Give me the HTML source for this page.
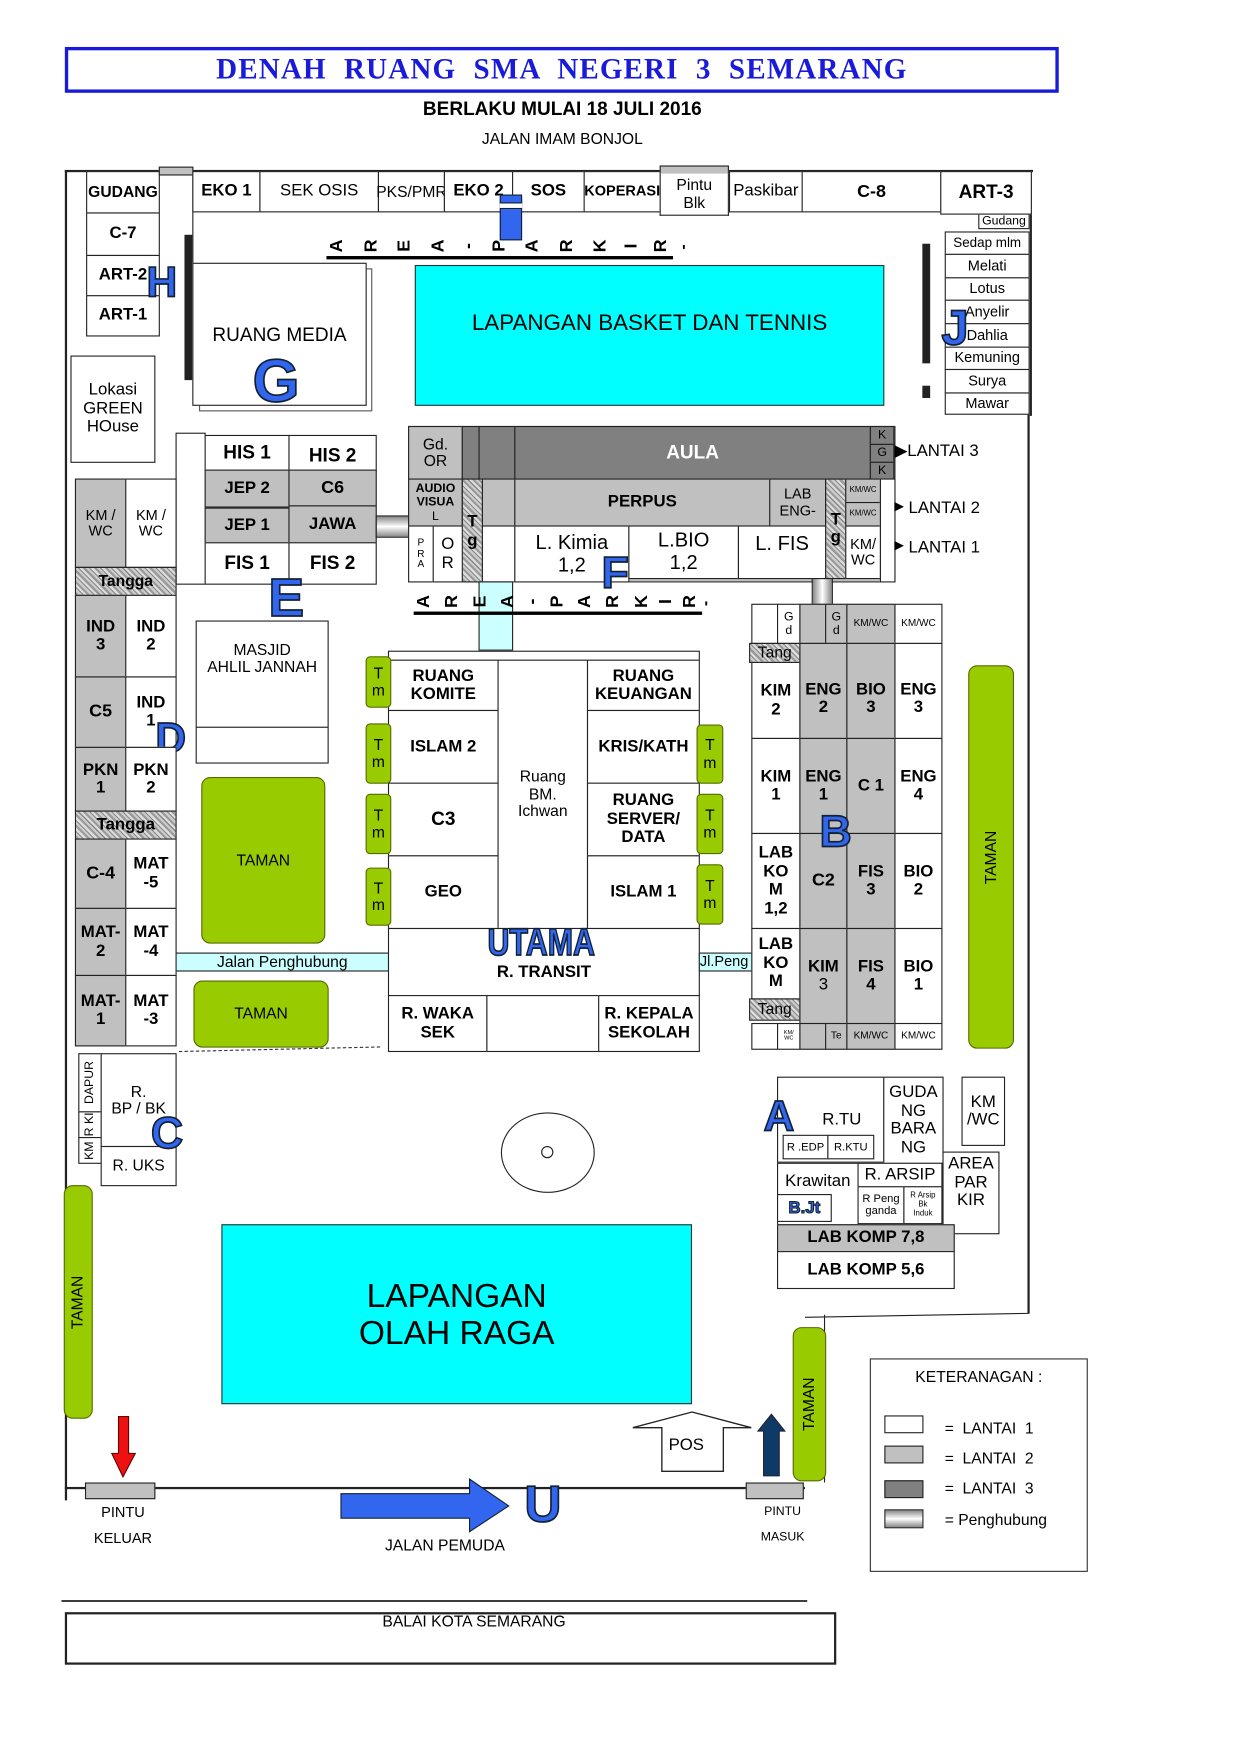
<!DOCTYPE html>
<html><head><meta charset="utf-8">
<style>
html,body{margin:0;padding:0;background:#fff;width:1241px;height:1755px;overflow:hidden}
#w{position:absolute;left:0;top:0;width:1110px;height:1570px;transform:scale(1.118);transform-origin:0 0;font-family:"Liberation Sans",sans-serif;}
.r{position:absolute;border:1px solid #222;box-sizing:border-box;display:flex;align-items:center;justify-content:center;text-align:center;line-height:1.1;font-size:14px;color:#000;background:#fff}
.b{font-weight:bold;font-size:15px}
.g{background:#c0c0c0}
.d{background:#808080}
.t{background:repeating-linear-gradient(45deg,#999 0 2px,#ccc 2px 4px,#888 4px 5px,#ddd 5px 7px)}
.gr{background:#99cc00;border-radius:8px;border:1px solid #556b00}
.L{position:absolute;font-family:"Liberation Sans",sans-serif;color:#3366ee;font-weight:bold;-webkit-text-stroke:1.5px #123;line-height:1}
.x{position:absolute;font-size:14px;text-align:center;line-height:1.2}
.ln{position:absolute;background:#222}
.s{font-size:9px}
.v{writing-mode:vertical-rl;transform:rotate(180deg)}
.ap{position:absolute;display:flex;gap:12px;font-weight:bold;font-size:16px;border-bottom:3px solid #000;line-height:1;padding:0 4px 1px}
.ap span{display:inline-block;transform:rotate(-90deg)}
</style></head><body><div id="w">

<div style="position:absolute;left:58px;top:42px;width:889px;height:41px;border:3px solid #1a1adb;box-sizing:border-box;"></div>
<div class="x" style="left:58px;top:46px;width:889px;font-family:'Liberation Serif',serif;font-weight:bold;font-size:26px;color:#1a1adb;letter-spacing:1px;word-spacing:8px">DENAH RUANG SMA NEGERI 3 SEMARANG</div>
<div class="x" style="left:300px;top:88px;width:406px;font-weight:bold;font-size:17px">BERLAKU MULAI 18 JULI 2016</div>
<div class="x" style="left:300px;top:116px;width:406px;font-size:14px">JALAN IMAM BONJOL</div>

<!-- outer lines -->
<div class="ln" style="left:58px;top:152px;width:2px;height:1190px"></div>
<div class="ln" style="left:58px;top:152px;width:866px;height:2px"></div>
<div class="ln" style="left:921px;top:152px;width:2px;height:220px"></div>
<div class="ln" style="left:919px;top:370px;width:2px;height:805px"></div>
<div class="ln" style="left:720px;top:1176px;width:200px;height:1px;transform:rotate(-1deg)"></div>
<div class="ln" style="left:58px;top:1330px;width:662px;height:2px"></div>
<div class="ln" style="left:737px;top:1176px;width:1px;height:150px"></div>

<!-- top row -->
<div class="r b" style="left:77px;top:153px;width:66px;height:38px;font-size:14px">GUDANG</div>
<div class="r g" style="left:142px;top:149px;width:31px;height:8px"></div>
<div class="ln" style="left:172px;top:156px;width:1px;height:80px"></div>
<div class="r b" style="left:172px;top:153px;width:61px;height:37px">EKO 1</div>
<div class="r" style="left:232px;top:153px;width:107px;height:37px;font-size:15px">SEK OSIS</div>
<div class="r" style="left:338px;top:153px;width:60px;height:37px;font-size:14px">PKS/PMR</div>
<div class="r b" style="left:397px;top:153px;width:62px;height:37px">EKO 2</div>
<div class="r b" style="left:458px;top:153px;width:65px;height:37px">SOS</div>
<div class="r b" style="left:522px;top:153px;width:69px;height:37px;font-size:13px">KOPERASI</div>
<div class="r g" style="left:590px;top:148px;width:62px;height:8px"></div>
<div class="r" style="left:590px;top:155px;width:62px;height:38px;border-top:none;font-size:14px">Pintu<br>Blk</div>
<div class="r" style="left:652px;top:153px;width:66px;height:37px;font-size:15px">Paskibar</div>
<div class="r b" style="left:717px;top:153px;width:125px;height:37px;font-size:16px">C-8</div>
<div class="r b" style="left:841px;top:153px;width:82px;height:39px;font-size:17px">ART-3</div>
<div class="r" style="left:875px;top:191px;width:46px;height:14px;font-size:11px">Gudang</div>

<div class="r b" style="left:77px;top:190px;width:66px;height:39px">C-7</div>
<div class="r b" style="left:77px;top:228px;width:66px;height:37px">ART-2</div>
<div class="r b" style="left:77px;top:264px;width:66px;height:37px">ART-1</div>
<div class="ln" style="left:165px;top:210px;width:7px;height:130px"></div>
<div class="L" style="left:131px;top:234px;font-size:38px">H</div>

<div class="r" style="left:178px;top:240px;width:155px;height:128px;border:1px solid #555"></div>
<div class="r" style="left:172px;top:235px;width:156px;height:128px;font-size:17px;align-items:flex-start;padding-top:55px">RUANG MEDIA</div>
<div class="L" style="left:226px;top:314px;font-size:54px">G</div>
<div style="position:absolute;left:447px;top:178px;width:20px;height:37px;background:#3366ee;border:1px solid #123;box-sizing:border-box"></div>
<div style="position:absolute;left:447px;top:178px;width:20px;height:8px;background:#fff;border-bottom:1px solid #123;"></div>
<div style="position:absolute;left:447px;top:174px;width:20px;height:8px;background:#3366ee;border:1px solid #123;box-sizing:border-box"></div>

<div class="ap" style="left:292px;top:212px;width:302px;justify-content:space-between"><span>A</span><span>R</span><span>E</span><span>A</span><span>-</span><span>P</span><span>A</span><span>R</span><span>K</span><span>I</span><span>R</span></div>
<div class="x" style="left:610px;top:216px;font-weight:bold">'</div>

<div class="r" style="left:371px;top:237px;width:420px;height:126px;background:#00ffff;border:1.5px solid #333;font-size:20px;align-items:flex-start;padding-top:40px">LAPANGAN BASKET DAN TENNIS</div>

<!-- right column -->
<div class="r" style="left:845px;top:207px;width:76px;height:21px;font-size:12px">Sedap mlm</div>
<div class="r" style="left:845px;top:227px;width:76px;height:22px;font-size:13px">Melati</div>
<div class="r" style="left:845px;top:248px;width:76px;height:21px;font-size:13px">Lotus</div>
<div class="r" style="left:845px;top:268px;width:76px;height:22px;font-size:13px">Anyelir</div>
<div class="r" style="left:845px;top:289px;width:76px;height:22px;font-size:13px">Dahlia</div>
<div class="r" style="left:845px;top:310px;width:76px;height:21px;font-size:13px">Kemuning</div>
<div class="r" style="left:845px;top:330px;width:76px;height:22px;font-size:13px">Surya</div>
<div class="r" style="left:845px;top:351px;width:76px;height:20px;font-size:13px">Mawar</div>
<div class="ln" style="left:825px;top:218px;width:7px;height:107px"></div>
<div class="ln" style="left:825px;top:345px;width:7px;height:11px"></div>
<div class="L" style="left:842px;top:272px;font-size:44px">J</div>

<div class="r" style="left:63px;top:318px;width:76px;height:96px;font-size:15px">Lokasi<br>GREEN<br>HOuse</div>

<!-- HIS block -->
<div class="r" style="left:157px;top:387px;width:27px;height:136px"></div>
<div class="r b" style="left:183px;top:389px;width:76px;height:32px;font-size:17px">HIS 1</div>
<div class="r b" style="left:258px;top:389px;width:79px;height:33px;font-size:17px;padding-top:6px">HIS 2</div>
<div class="r b g" style="left:183px;top:420px;width:76px;height:34px">JEP 2</div>
<div class="r b g" style="left:258px;top:420px;width:79px;height:33px;font-size:16px">C6</div>
<div class="r b g" style="left:183px;top:454px;width:76px;height:32px">JEP 1</div>
<div class="r b g" style="left:258px;top:452px;width:79px;height:34px">JAWA</div>
<div class="r b" style="left:183px;top:485px;width:76px;height:38px;font-size:17px">FIS 1</div>
<div class="r b" style="left:258px;top:485px;width:79px;height:38px;font-size:17px">FIS 2</div>
<div class="r" style="left:336px;top:461px;width:34px;height:20px;background:linear-gradient(#888,#fff 50%,#888)"></div>
<div class="L" style="left:240px;top:512px;font-size:48px">E</div>

<!-- left column -->
<div class="r g" style="left:67px;top:428px;width:46px;height:80px;font-size:13px">KM /<br>WC</div>
<div class="r" style="left:112px;top:428px;width:46px;height:80px;font-size:13px">KM /<br>WC</div>
<div class="r t b" style="left:67px;top:507px;width:91px;height:26px;font-size:14px">Tangga</div>
<div class="r g b" style="left:67px;top:532px;width:46px;height:74px">IND<br>3</div>
<div class="r b" style="left:112px;top:532px;width:46px;height:74px">IND<br>2</div>
<div class="r g b" style="left:67px;top:605px;width:46px;height:64px;font-size:16px">C5</div>
<div class="r b" style="left:112px;top:605px;width:46px;height:64px">IND<br>1</div>
<div class="L" style="left:139px;top:642px;font-size:38px">D</div>
<div class="r g b" style="left:67px;top:668px;width:46px;height:58px">PKN<br>1</div>
<div class="r b" style="left:112px;top:668px;width:46px;height:58px">PKN<br>2</div>
<div class="r t b" style="left:67px;top:725px;width:91px;height:26px">Tangga</div>
<div class="r g b" style="left:67px;top:750px;width:46px;height:63px;font-size:16px">C-4</div>
<div class="r b" style="left:112px;top:750px;width:46px;height:63px">MAT<br>-5</div>
<div class="r g b" style="left:67px;top:812px;width:46px;height:61px">MAT-<br>2</div>
<div class="r b" style="left:112px;top:812px;width:46px;height:61px">MAT<br>-4</div>
<div class="r g b" style="left:67px;top:872px;width:46px;height:64px">MAT-<br>1</div>
<div class="r b" style="left:112px;top:872px;width:46px;height:64px">MAT<br>-3</div>

<div class="r" style="left:175px;top:555px;width:119px;height:96px;font-size:14px;align-items:flex-start;padding-top:18px">MASJID<br>AHLIL JANNAH</div>
<div class="r" style="left:175px;top:650px;width:119px;height:33px"></div>
<div class="r gr" style="left:180px;top:695px;width:111px;height:149px;font-size:14px">TAMAN</div>
<div class="r" style="left:157px;top:852px;width:191px;height:17px;background:#ccffff;font-size:14px">Jalan Penghubung</div>
<div class="r gr" style="left:173px;top:877px;width:121px;height:60px;font-size:14px">TAMAN</div>
<div style="position:absolute;left:160px;top:938px;width:180px;border-top:1px dashed #333;transform:rotate(-1.3deg)"></div>

<div class="r s" style="left:70px;top:942px;width:21px;height:53px;font-size:11px"><span class="v">DAPUR</span></div>
<div class="r s" style="left:70px;top:994px;width:21px;height:24px;font-size:11px"><span class="v">R KI</span></div>
<div class="r s" style="left:70px;top:1017px;width:21px;height:24px;font-size:11px"><span class="v">KM</span></div>
<div class="r" style="left:90px;top:942px;width:68px;height:84px;font-size:14px">R.<br>BP / BK</div>
<div class="r" style="left:90px;top:1025px;width:68px;height:36px;font-size:14px">R. UKS</div>
<div class="L" style="left:135px;top:994px;font-size:40px">C</div>
<div class="r gr" style="left:57px;top:1060px;width:26px;height:209px;font-size:14px"><span class="v">TAMAN</span></div>

<!-- Aula block -->
<div class="r g" style="left:365px;top:381px;width:436px;height:140px;border:1.5px solid #333"></div>
<div class="r g" style="left:365px;top:381px;width:49px;height:48px;font-size:14px">Gd.<br>OR</div>
<div class="r d" style="left:413px;top:381px;width:16px;height:48px"></div>
<div class="r d" style="left:428px;top:381px;width:33px;height:48px"></div>
<div class="r d b" style="left:460px;top:381px;width:319px;height:48px;color:#fff;font-size:17px">AULA</div>
<div class="r d" style="left:778px;top:381px;width:22px;height:17px;font-size:11px">K</div>
<div class="r d" style="left:778px;top:397px;width:22px;height:17px;font-size:11px">G</div>
<div class="r d" style="left:778px;top:413px;width:22px;height:16px;font-size:11px">K</div>
<div class="r g b" style="left:365px;top:428px;width:49px;height:43px;font-size:11px"><div>AUDIO<br>VISUA<br><span style="font-weight:normal">L</span></div></div>
<div class="r t b" style="left:413px;top:428px;width:19px;height:93px;align-items:flex-start;padding-top:30px">T<br>g</div>
<div class="r g" style="left:431px;top:428px;width:30px;height:43px"></div>
<div class="r g b" style="left:460px;top:428px;width:229px;height:43px">PERPUS</div>
<div class="r g" style="left:688px;top:428px;width:51px;height:43px;font-size:13px">LAB<br>ENG-</div>
<div class="r t b" style="left:738px;top:428px;width:19px;height:90px">T<br>g</div>
<div class="r g s" style="left:756px;top:428px;width:32px;height:22px;font-size:7px">KM/WC</div>
<div class="r g s" style="left:756px;top:449px;width:32px;height:22px;font-size:7px">KM/WC</div>
<div class="r" style="left:365px;top:470px;width:23px;height:51px;font-size:9px">P<br>R<br>A</div>
<div class="r" style="left:387px;top:470px;width:27px;height:51px;font-size:15px">O<br>R</div>
<div class="r" style="left:431px;top:470px;width:30px;height:51px"></div>
<div class="r" style="left:460px;top:470px;width:103px;height:51px;font-size:18px">L. Kimia<br>1,2</div>
<div class="r" style="left:562px;top:470px;width:99px;height:48px;font-size:18px">L.BIO<br>1,2</div>
<div class="r" style="left:660px;top:470px;width:79px;height:48px;font-size:18px;align-items:flex-start;padding-top:6px">L. FIS</div>
<div class="r" style="left:756px;top:470px;width:32px;height:48px;font-size:13px">KM/<br>WC</div>
<div class="r" style="left:787px;top:428px;width:14px;height:93px"></div>
<div class="L" style="left:538px;top:493px;font-size:40px">F</div>
<div class="r" style="left:428px;top:520px;width:31px;height:62px;background:#ccffff"></div>
<div class="r" style="left:726px;top:517px;width:19px;height:24px;background:linear-gradient(90deg,#888,#fff 50%,#888)"></div>
<div class="x" style="left:800px;top:395px;font-size:15px">▶LANTAI 3</div>
<div class="x" style="left:800px;top:446px;font-size:15px"><span style="font-size:11px;vertical-align:3px">▶</span> LANTAI 2</div>
<div class="x" style="left:800px;top:481px;font-size:15px"><span style="font-size:11px;vertical-align:3px">▶</span> LANTAI 1</div>
<div class="ap" style="left:370px;top:530px;width:250px;justify-content:space-between"><span>A</span><span>R</span><span>E</span><span>A</span><span>-</span><span>P</span><span>A</span><span>R</span><span>K</span><span>I</span><span>R</span></div>
<div class="x" style="left:630px;top:535px;font-weight:bold">'</div>

<!-- central block -->
<div class="r" style="left:347px;top:582px;width:279px;height:9px"></div>
<div class="r b" style="left:347px;top:590px;width:99px;height:46px">RUANG<br>KOMITE</div>
<div class="r b" style="left:347px;top:635px;width:99px;height:66px">ISLAM 2</div>
<div class="r b" style="left:347px;top:700px;width:99px;height:66px;font-size:17px">C3</div>
<div class="r b" style="left:347px;top:765px;width:99px;height:66px">GEO</div>
<div class="r" style="left:445px;top:590px;width:81px;height:241px;font-size:14px">Ruang<br>BM.<br>Ichwan</div>
<div class="r b" style="left:525px;top:590px;width:101px;height:46px">RUANG<br>KEUANGAN</div>
<div class="r b" style="left:525px;top:635px;width:101px;height:66px">KRIS/KATH</div>
<div class="r b" style="left:525px;top:700px;width:101px;height:66px">RUANG<br>SERVER/<br>DATA</div>
<div class="r b" style="left:525px;top:765px;width:101px;height:66px">ISLAM 1</div>
<div class="r b" style="left:347px;top:830px;width:279px;height:61px;align-items:flex-end;padding-bottom:12px">R. TRANSIT</div>
<div class="L" style="left:436px;top:826px;font-size:34px;transform:scaleX(0.8);transform-origin:left">UTAMA</div>
<div class="r b" style="left:347px;top:890px;width:89px;height:51px">R. WAKA<br>SEK</div>
<div class="r" style="left:435px;top:890px;width:101px;height:51px"></div>
<div class="r b" style="left:535px;top:890px;width:91px;height:51px">R. KEPALA<br>SEKOLAH</div>
<div class="r" style="left:625px;top:852px;width:48px;height:17px;background:#ccffff;font-size:13px;justify-content:flex-start">Jl.Peng</div>
<div class="r gr" style="left:327px;top:587px;width:23px;height:46px;border-radius:4px">T<br>m</div>
<div class="r gr" style="left:327px;top:647px;width:23px;height:54px;border-radius:4px">T<br>m</div>
<div class="r gr" style="left:327px;top:710px;width:23px;height:54px;border-radius:4px">T<br>m</div>
<div class="r gr" style="left:327px;top:776px;width:23px;height:52px;border-radius:4px">T<br>m</div>
<div class="r gr" style="left:623px;top:648px;width:24px;height:53px;border-radius:4px">T<br>m</div>
<div class="r gr" style="left:623px;top:710px;width:24px;height:54px;border-radius:4px">T<br>m</div>
<div class="r gr" style="left:623px;top:773px;width:24px;height:54px;border-radius:4px">T<br>m</div>

<!-- right block -->
<div class="r" style="left:672px;top:540px;width:24px;height:36px"></div>
<div class="r" style="left:695px;top:540px;width:21px;height:36px;font-size:11px">G<br>d</div>
<div class="r g" style="left:715px;top:540px;width:24px;height:36px"></div>
<div class="r g" style="left:738px;top:540px;width:20px;height:36px;font-size:11px">G<br>d</div>
<div class="r g" style="left:757px;top:540px;width:44px;height:36px;font-size:9px">KM/WC</div>
<div class="r" style="left:800px;top:540px;width:43px;height:36px;font-size:9px">KM/WC</div>
<div class="r t" style="left:670px;top:575px;width:46px;height:18px;font-size:14px">Tang</div>
<div class="r b" style="left:672px;top:592px;width:44px;height:69px">KIM<br>2</div>
<div class="r g b" style="left:715px;top:575px;width:43px;height:86px;padding-top:14px">ENG<br>2</div>
<div class="r g b" style="left:757px;top:575px;width:44px;height:86px;padding-top:14px">BIO<br>3</div>
<div class="r b" style="left:800px;top:575px;width:43px;height:86px;padding-top:14px">ENG<br>3</div>
<div class="r b" style="left:672px;top:660px;width:44px;height:86px">KIM<br>1</div>
<div class="r g b" style="left:715px;top:660px;width:43px;height:86px">ENG<br>1</div>
<div class="r g b" style="left:757px;top:660px;width:44px;height:86px">C 1</div>
<div class="r b" style="left:800px;top:660px;width:43px;height:86px">ENG<br>4</div>
<div class="r b" style="left:672px;top:745px;width:44px;height:86px">LAB<br>KO<br>M<br>1,2</div>
<div class="r g b" style="left:715px;top:745px;width:43px;height:86px;font-size:16px">C2</div>
<div class="r g b" style="left:757px;top:745px;width:44px;height:86px">FIS<br>3</div>
<div class="r b" style="left:800px;top:745px;width:43px;height:86px">BIO<br>2</div>
<div class="r b" style="left:672px;top:830px;width:44px;height:64px">LAB<br>KO<br>M</div>
<div class="r t" style="left:670px;top:893px;width:46px;height:20px;font-size:14px">Tang</div>
<div class="r g b" style="left:715px;top:830px;width:43px;height:86px"><div>KIM<br><span style="font-weight:normal">3</span></div></div>
<div class="r g b" style="left:757px;top:830px;width:44px;height:86px">FIS<br>4</div>
<div class="r b" style="left:800px;top:830px;width:43px;height:86px">BIO<br>1</div>
<div class="r" style="left:672px;top:915px;width:24px;height:24px"></div>
<div class="r" style="left:695px;top:915px;width:21px;height:24px;font-size:5px">KM/<br>WC</div>
<div class="r g" style="left:715px;top:915px;width:24px;height:24px"></div>
<div class="r g" style="left:738px;top:915px;width:20px;height:24px;font-size:9px">Te</div>
<div class="r g" style="left:757px;top:915px;width:44px;height:24px;font-size:9px">KM/WC</div>
<div class="r" style="left:800px;top:915px;width:43px;height:24px;font-size:9px">KM/WC</div>
<div class="L" style="left:733px;top:724px;font-size:40px">B</div>
<div class="r gr" style="left:866px;top:595px;width:41px;height:343px"><span class="v">TAMAN</span></div>

<!-- bottom right -->
<div class="r" style="left:695px;top:963px;width:96px;height:77px;align-items:flex-start;padding-top:30px;font-size:15px;padding-left:20px">R.TU</div>
<div class="r" style="left:700px;top:1015px;width:41px;height:22px;font-size:10px">R .EDP</div>
<div class="r" style="left:740px;top:1015px;width:42px;height:22px;font-size:10px">R.KTU</div>
<div class="r" style="left:790px;top:963px;width:54px;height:78px;font-size:15px">GUDA<br>NG<br>BARA<br>NG</div>
<div class="r" style="left:860px;top:963px;width:39px;height:62px;font-size:15px">KM<br>/WC</div>
<div class="r" style="left:843px;top:1030px;width:51px;height:74px;font-size:15px;align-items:flex-start;padding-top:2px">AREA<br>PAR<br>KIR</div>
<div class="L" style="left:683px;top:980px;font-size:38px">A</div>
<div class="r" style="left:695px;top:1040px;width:73px;height:56px;font-size:15px;align-items:flex-start;padding-top:8px">Krawitan</div>
<div class="r" style="left:695px;top:1068px;width:49px;height:25px"><span class="L" style="position:static;font-size:15px;-webkit-text-stroke:1px #123">B.Jt</span></div>
<div class="r" style="left:767px;top:1040px;width:76px;height:22px;font-size:15px">R. ARSIP</div>
<div class="r" style="left:767px;top:1061px;width:42px;height:34px;font-size:10px">R Peng<br>ganda</div>
<div class="r" style="left:808px;top:1061px;width:35px;height:34px;font-size:7px">R Arsip<br>Bk<br>Induk</div>
<div class="r g b" style="left:695px;top:1095px;width:159px;height:25px">LAB KOMP 7,8</div>
<div class="r b" style="left:695px;top:1119px;width:159px;height:34px">LAB KOMP 5,6</div>

<!-- oval -->
<div style="position:absolute;left:448px;top:995px;width:82px;height:70px;border:1px solid #222;border-radius:50%"></div>
<div style="position:absolute;left:484px;top:1025px;width:9px;height:9px;border:1px solid #222;border-radius:50%"></div>

<div class="r" style="left:198px;top:1095px;width:421px;height:161px;background:#00ffff;font-size:30px;border:1.5px solid #333">LAPANGAN<br>OLAH RAGA</div>

<svg style="position:absolute;left:0;top:0" width="1110" height="1570">
<polygon points="619,1263 672,1277 647,1277 647,1316 592,1316 592,1277 566,1277" fill="#fff" stroke="#222" stroke-width="1.2"/>
<polygon points="683,1320 683,1280 678,1280 690,1265 702,1280 697,1280 697,1320" fill="#0d3a66" stroke="#223"/>
<polygon points="106,1267 115,1267 115,1300 121,1300 110,1321 100,1300 106,1300" fill="#ee1111" stroke="#600"/>
<polygon points="305,1336 420,1336 420,1323 455,1347 420,1370 420,1358 305,1358" fill="#3366ee" stroke="#123"/>
<line x1="55" y1="1432" x2="722" y2="1432" stroke="#222" stroke-width="1.5"/>
</svg>
<div class="r g" style="left:76px;top:1326px;width:63px;height:15px"></div>
<div class="r g" style="left:667px;top:1326px;width:52px;height:15px"></div>
<div class="r gr" style="left:709px;top:1187px;width:30px;height:138px"><span class="v">TAMAN</span></div>
<div class="x" style="left:598px;top:1284px;font-size:15px">POS</div>
<div class="L" style="left:469px;top:1322px;font-size:46px">U</div>
<div class="x" style="left:70px;top:1345px;width:80px;font-size:13px">PINTU</div>
<div class="x" style="left:70px;top:1368px;width:80px;font-size:13px">KELUAR</div>
<div class="x" style="left:320px;top:1374px;width:156px;font-size:14px">JALAN PEMUDA</div>
<div class="x" style="left:670px;top:1346px;width:60px;font-size:11px">PINTU</div>
<div class="x" style="left:670px;top:1369px;width:60px;font-size:11px">MASUK</div>

<!-- legend -->
<div style="position:absolute;left:778px;top:1215px;width:195px;height:191px;border:1.5px solid #333;box-sizing:border-box"></div>
<div class="x" style="left:778px;top:1223px;width:195px;font-size:14px">KETERANAGAN :</div>
<div class="r" style="left:791px;top:1266px;width:35px;height:16px"></div>
<div class="r g" style="left:791px;top:1293px;width:35px;height:16px"></div>
<div class="r d" style="left:791px;top:1324px;width:35px;height:16px"></div>
<div class="r" style="left:791px;top:1350px;width:35px;height:17px;background:linear-gradient(#888,#fff 50%,#888)"></div>
<div class="x" style="left:845px;top:1269px;font-size:14px">= &nbsp;LANTAI &nbsp;1</div>
<div class="x" style="left:845px;top:1296px;font-size:14px">= &nbsp;LANTAI &nbsp;2</div>
<div class="x" style="left:845px;top:1323px;font-size:14px">= &nbsp;LANTAI &nbsp;3</div>
<div class="x" style="left:845px;top:1351px;font-size:14px">= Penghubung</div>

<div style="position:absolute;left:58px;top:1442px;width:690px;height:47px;border:2px solid #222;box-sizing:border-box"></div>
<div class="x" style="left:58px;top:1442px;width:732px;font-size:14px">BALAI KOTA SEMARANG</div>
</div></body></html>
